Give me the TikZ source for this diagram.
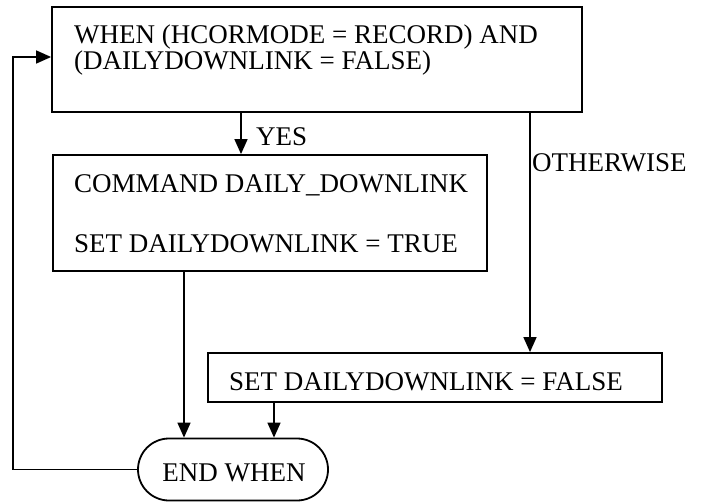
\documentclass[tikz,border=0pt]{standalone}
\usepackage{fontspec}
\setmainfont{Liberation Serif}
\usetikzlibrary{arrows.meta}
\begin{document}
\begin{tikzpicture}[x=1pt,y=-1pt,
  box/.style={draw,line width=1.8pt,rectangle,inner sep=0pt},
  endbox/.style={draw,line width=1.8pt,rectangle,rounded corners=31pt,inner sep=0pt},
  txt/.style={inner sep=0pt,font=\fontsize{27}{28}\selectfont},
  arr/.style={line width=1.5pt,-{Triangle[length=15pt,width=13pt]}}]
\useasboundingbox (0,0) rectangle (711,502);
% boxes
\node[box,minimum width=530pt,minimum height=105pt] (when) at (317,59.5) {};
\node[box,minimum width=434pt,minimum height=116pt] (cmd) at (270,213) {};
\node[box,minimum width=454pt,minimum height=49pt] (setf) at (435,377.5) {};
\node[endbox,minimum width=190pt,minimum height=62pt] (endw) at (233,469.5) {};
% texts
\node[txt,anchor=base west] (w1) at (74,43.5) {WHEN (HCORMODE = RECORD) AND};
\node[txt,anchor=base west] (w2) at (74,70) {(DAILYDOWNLINK = FALSE)};
\node[txt,anchor=base west] (c1) at (74,193) {COMMAND DAILY\_DOWNLINK};
\node[txt,anchor=base west] (c2) at (74,253) {SET DAILYDOWNLINK = TRUE};
\node[txt,anchor=base west] (f1) at (229,390) {SET DAILYDOWNLINK = FALSE};
\node[txt,anchor=base] (e1) at (234,481.5) {END WHEN};
\node[txt,anchor=base west] (yes) at (256,145.5) {YES};
\node[txt,anchor=base west] (oth) at (532,172) {OTHERWISE};
% helper coordinates
\coordinate (xyes) at (241,0);
\coordinate (xoth) at (530,0);
\coordinate (xcmd) at (184,0);
\coordinate (xset) at (274,0);
\coordinate (loopx) at (13,0);
\coordinate (loopy) at (0,57);
% connectors
\draw[arr] (when.south -| xyes) -- (cmd.north -| xyes);
\draw[arr] (when.south -| xoth) -- (setf.north -| xoth);
\draw[arr] (cmd.south -| xcmd) -- (endw.north -| xcmd);
\draw[arr] (setf.south -| xset) -- (endw.north -| xset);
\draw[arr] (endw.west) -| (loopx |- loopy) -- (when.west |- loopy);
\end{tikzpicture}
\end{document}
